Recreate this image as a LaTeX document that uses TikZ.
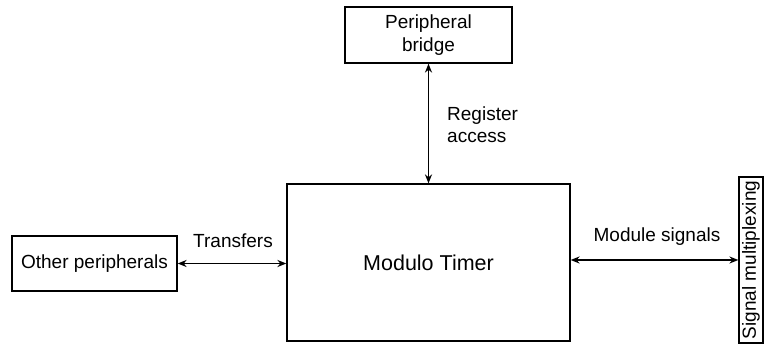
\documentclass[tikz,border=0pt]{standalone}
\usepackage{fontspec}
\setmainfont{Liberation Sans}
\usetikzlibrary{arrows.meta}
\begin{document}
\begin{tikzpicture}[x=1pt,y=-1pt,
  blk/.style={draw,line width=1.2pt,inner sep=0pt,align=center,font=\fontsize{19}{23}\selectfont},
  lbl/.style={inner sep=0pt,align=left,font=\fontsize{19}{22}\selectfont},
  conn/.style={line width=1.9pt,{Stealth[length=9pt,width=7pt]}-{Stealth[length=9pt,width=7pt]}}]
\useasboundingbox (0,0) rectangle (779,344);
\node[blk,minimum width=167pt,minimum height=56pt] (pb) at (428.5,35) {Peripheral\\bridge};
\node[blk,minimum width=283pt,minimum height=157pt,font=\fontsize{21.5}{25}\selectfont] (mt) at (428.5,262.5) {Modulo Timer};
\node[blk,minimum width=165pt,minimum height=55pt] (op) at (94.5,263.5) {Other peripherals};
\node[blk,minimum width=166pt,minimum height=24pt,rotate=90] (sm) at (751,260) {Signal multiplexing};
\draw[conn] (pb.south) -- (mt.north);
\draw[conn] (op.east) -- (mt.west |- op.east);
\draw[conn] (mt.east |- sm.north) -- (sm.north);
\node[lbl,anchor=west] (ra) at (447,125) {Register\\access};
\node[lbl] (tr) at (233,241) {Transfers};
\node[lbl] (ms) at (657,237) {Module signals};
\end{tikzpicture}
\end{document}
